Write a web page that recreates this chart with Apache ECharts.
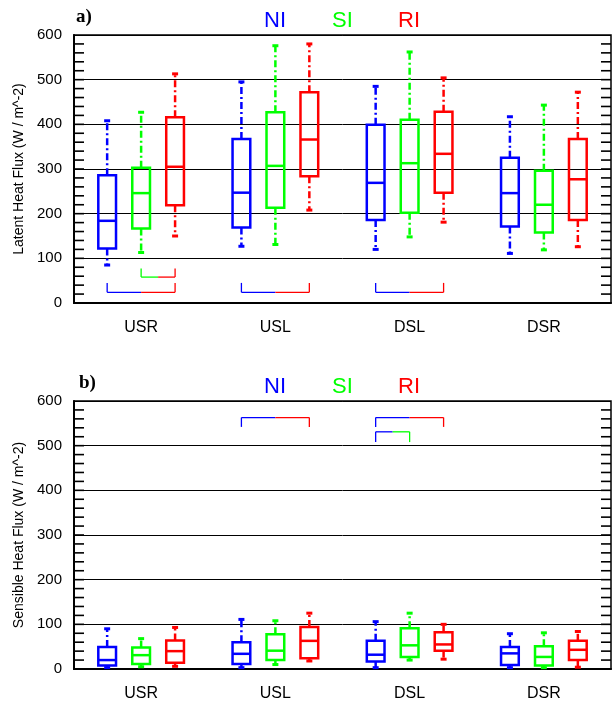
<!DOCTYPE html>
<html lang="en">

<head>
  <meta charset="UTF-8" />
  <title>Latent / Sensible Heat Flux</title>
  <script src="https://cdn.jsdelivr.net/npm/echarts@6/dist/echarts.min.js"></script>
  <style>
    html, body { margin: 0; padding: 0; background: #fff; }
  </style>
</head>

<body>
  <div id="main" style="width: 612px; height: 705px;"></div>
  <script type="text/javascript">
    const categories = ['USR', 'USL', 'DSL', 'DSR'];
    const groups = ['NI', 'SI', 'RI'];
    const groupColors = ['#0000ff', '#00ff00', '#ff0000'];

    // [min, q1, median, q3, max] for each category
    const latentNI = [[85, 122, 184, 286, 408], [127, 169, 247, 367, 495], [120, 186, 269, 399, 485], [111, 171, 246, 325, 417]];
    const latentSI = [[113, 167, 246, 303, 427], [131, 213, 307, 427, 576], [148, 202, 313, 410, 562], [119, 158, 220, 296, 443]];
    const latentRI = [[150, 219, 305, 416, 513], [208, 284, 366, 472, 580], [181, 247, 334, 428, 504], [126, 186, 277, 367, 472]];

    const sensibleNI = [[3, 8, 20, 49, 90], [3, 11, 34, 60, 111], [3, 17, 32, 63, 106], [3, 9, 35, 49, 79]];
    const sensibleSI = [[5, 11, 31, 48, 68], [10, 20, 41, 78, 108], [20, 27, 53, 91, 125], [3, 8, 27, 51, 81]];
    const sensibleRI = [[6, 14, 40, 64, 93], [18, 24, 63, 94, 125], [22, 41, 55, 82, 100], [4, 20, 43, 63, 84]];

    // significance brackets: [category, from group, to group, y of bar, y of tick end]
    const latentBrackets = [[0, 0, 2, 24, 45], [0, 1, 2, 58, 77], [1, 0, 2, 24, 45], [2, 0, 2, 24, 45]];
    const sensibleBrackets = [[1, 0, 2, 563, 542], [2, 0, 2, 563, 542], [2, 0, 1, 531, 508]];

    const yRange = [0, 600];
    const yMajor = 100;
    // fine inward ticks drawn on both sides of each panel
    const yMinorTicks = [20, 40, 60, 80, 120, 140, 160, 180, 220, 240, 260, 280, 320, 340, 360, 380,
      420, 440, 460, 480, 520, 540, 560, 580, 100, 200, 300, 400, 500];

    const font = 'Liberation Sans, Arial, Helvetica, sans-serif';
    const OFFSET = 0.253; // group offset as fraction of category band
    const HALF = 0.066;   // half box width as fraction of band
    const TICK = 10;      // inward tick length, px

    var myChart = echarts.init(document.getElementById('main'));

    function boxSeries(gi, data, panel) {
      let color = groupColors[gi];
      return {
        name: groups[gi],
        type: 'custom',
        xAxisIndex: panel,
        yAxisIndex: panel,
        encode: { x: 0, y: [1, 2, 3, 4, 5] },
        data: data.map((d, i) => [i].concat(d)),
        renderItem(params, api) {
          let cat = api.value(0);
          let band = api.size([1, 0])[0];
          let cx = api.coord([cat, 0])[0] + (gi - 1) * band * OFFSET;
          let hw = band * HALF;
          let y = [1, 2, 3, 4, 5].map(k => api.coord([cat, api.value(k)])[1]);
          let solid = { stroke: color, lineWidth: 2.5, fill: null };
          let dashed = { stroke: color, lineWidth: 2.5, lineDash: [7, 3, 2, 3] };
          return {
            type: 'group',
            children: [
              { type: 'line', shape: { x1: cx, y1: y[1], x2: cx, y2: y[0] }, style: dashed },
              { type: 'line', shape: { x1: cx, y1: y[3], x2: cx, y2: y[4] }, style: dashed },
              { type: 'line', shape: { x1: cx - 3, y1: y[0], x2: cx + 3, y2: y[0] }, style: { stroke: color, lineWidth: 3 } },
              { type: 'line', shape: { x1: cx - 3, y1: y[4], x2: cx + 3, y2: y[4] }, style: { stroke: color, lineWidth: 3 } },
              { type: 'rect', shape: { x: cx - hw, y: y[3], width: hw * 2, height: y[1] - y[3] }, style: solid },
              { type: 'line', shape: { x1: cx - hw, y1: y[2], x2: cx + hw, y2: y[2] }, style: solid }
            ]
          };
        }
      };
    }

    function bracketSeries(data, panel) {
      return {
        type: 'custom',
        xAxisIndex: panel,
        yAxisIndex: panel,
        encode: { x: 0, y: [3, 4] },
        data,
        silent: true,
        renderItem(params, api) {
          let cat = api.value(0);
          let from = api.value(1), to = api.value(2);
          let band = api.size([1, 0])[0];
          let c = api.coord([cat, 0])[0];
          let x1 = c + (from - 1) * band * OFFSET;
          let x2 = c + (to - 1) * band * OFFSET;
          let xm = (x1 + x2) / 2;
          let yb = api.coord([cat, api.value(3)])[1];
          let ye = api.coord([cat, api.value(4)])[1];
          let s1 = { stroke: groupColors[from], lineWidth: 1.3 };
          let s2 = { stroke: groupColors[to], lineWidth: 1.3 };
          return {
            type: 'group',
            children: [
              { type: 'line', shape: { x1: x1, y1: ye, x2: x1, y2: yb }, style: s1 },
              { type: 'line', shape: { x1: x1, y1: yb, x2: xm, y2: yb }, style: s1 },
              { type: 'line', shape: { x1: xm, y1: yb, x2: x2, y2: yb }, style: s2 },
              { type: 'line', shape: { x1: x2, y1: yb, x2: x2, y2: ye }, style: s2 }
            ]
          };
        }
      };
    }

    // inward ticks on the left and right frame, placed by the y scale
    function tickSeries(panel) {
      return {
        type: 'custom',
        xAxisIndex: panel,
        yAxisIndex: panel,
        encode: { x: 0, y: 1 },
        data: yMinorTicks.map(v => [0, v]),
        silent: true,
        z: 5,
        renderItem(params, api) {
          let band = api.size([1, 0])[0];
          let xl = api.coord([0, 0])[0] - band / 2;
          let xr = xl + band * categories.length;
          let y = api.coord([0, api.value(1)])[1];
          let st = { stroke: '#000', lineWidth: 1.6 };
          return {
            type: 'group',
            children: [
              { type: 'line', shape: { x1: xl, y1: y, x2: xl + TICK, y2: y }, style: st },
              { type: 'line', shape: { x1: xr - TICK, y1: y, x2: xr, y2: y }, style: st }
            ]
          };
        }
      };
    }

    function xAxis(panel) {
      return {
        gridIndex: panel,
        type: 'category',
        data: categories,
        axisTick: { show: false },
        axisLine: { lineStyle: { color: '#000', width: 2 } },
        axisLabel: { fontSize: 16, color: '#000', margin: 17, fontFamily: font }
      };
    }

    function yAxis(panel, name) {
      return {
        gridIndex: panel,
        type: 'value',
        position: 'left',
        min: yRange[0],
        max: yRange[1],
        interval: yMajor,
        name,
        nameLocation: 'middle',
        nameGap: 46,
        nameTextStyle: { fontSize: 14, color: '#000', fontFamily: font },
        axisLine: { show: true, lineStyle: { color: '#000', width: 2 } },
        axisTick: { show: false },
        axisLabel: { fontSize: 15, color: '#000', margin: 12, fontFamily: font },
        splitLine: { show: true, lineStyle: { color: '#000', width: 1 } }
      };
    }

    function label(text, left, top, color, size, serif) {
      return {
        text,
        left,
        top,
        padding: 0,
        textStyle: {
          color,
          fontSize: size,
          fontWeight: serif ? 'bold' : 'normal',
          fontFamily: serif ? 'Liberation Serif, Times New Roman, serif' : font
        }
      };
    }

    var option = {
      animation: false,
      title: [
        label('a)', 76, 8, '#000', 19, true),
        label('NI', 264, 10, groupColors[0], 22),
        label('SI', 332, 10, groupColors[1], 22),
        label('RI', 398, 10, groupColors[2], 22),
        label('b)', 79, 374, '#000', 19, true),
        label('NI', 264, 376, groupColors[0], 22),
        label('SI', 332, 376, groupColors[1], 22),
        label('RI', 398, 376, groupColors[2], 22)
      ],
      grid: [
        { left: 74, top: 35, width: 537, height: 268, show: true, borderColor: '#000', borderWidth: 1.5 },
        { left: 74, top: 401, width: 537, height: 268, show: true, borderColor: '#000', borderWidth: 1.5 }
      ],
      xAxis: [xAxis(0), xAxis(1)],
      yAxis: [yAxis(0, 'Latent Heat Flux (W / m^-2)'), yAxis(1, 'Sensible Heat Flux (W / m^-2)')],
      series: [
        boxSeries(0, latentNI, 0),
        boxSeries(1, latentSI, 0),
        boxSeries(2, latentRI, 0),
        bracketSeries(latentBrackets, 0),
        tickSeries(0),
        boxSeries(0, sensibleNI, 1),
        boxSeries(1, sensibleSI, 1),
        boxSeries(2, sensibleRI, 1),
        bracketSeries(sensibleBrackets, 1),
        tickSeries(1)
      ]
    };
    myChart.setOption(option);
  </script>
</body>

</html>
